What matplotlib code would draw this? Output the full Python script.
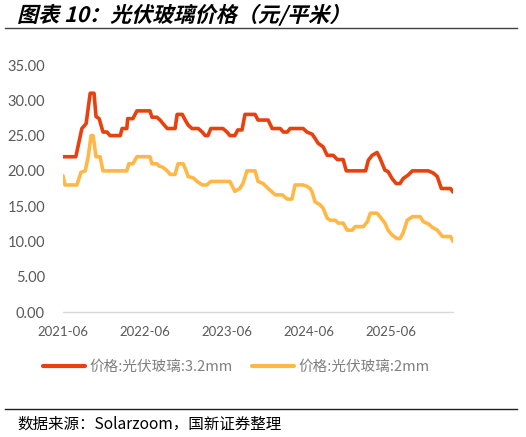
import matplotlib
matplotlib.use("Agg")
import matplotlib.pyplot as plt
import pandas as pd
from matplotlib.lines import Line2D
from matplotlib.textpath import TextPath
from matplotlib.patches import PathPatch
from matplotlib.font_manager import FontProperties
from matplotlib.transforms import Affine2D

plt.rcParams['font.family'] = ['Noto Sans CJK SC', 'DejaVu Sans']

# 价格:光伏玻璃:3.2mm (元/平米)
dates_32 = ['2021-06-01', '2021-07-28', '2021-08-24', '2021-09-12', '2021-09-30',
            '2021-10-17', '2021-10-26', '2021-11-09', '2021-11-26', '2021-12-14',
            '2021-12-27', '2022-02-11', '2022-02-19', '2022-03-12', '2022-03-16',
            '2022-04-08', '2022-04-26', '2022-06-23', '2022-07-02', '2022-07-24',
            '2022-08-07', '2022-08-20', '2022-09-08', '2022-10-13', '2022-10-22',
            '2022-11-14', '2022-11-27', '2022-12-10', '2022-12-27', '2023-01-24',
            '2023-02-11', '2023-02-24', '2023-03-08', '2023-03-21', '2023-05-14',
            '2023-06-01', '2023-06-14', '2023-07-06', '2023-07-19', '2023-08-07',
            '2023-08-20', '2023-10-04', '2023-10-17', '2023-12-01', '2023-12-19',
            '2024-01-24', '2024-02-07', '2024-02-24', '2024-03-08', '2024-05-05',
            '2024-05-22', '2024-06-14', '2024-06-27', '2024-07-11', '2024-08-02',
            '2024-08-20', '2024-09-16', '2024-10-04', '2024-10-30', '2024-11-13',
            '2025-02-07', '2025-02-19', '2025-03-08', '2025-03-30', '2025-04-12',
            '2025-05-04', '2025-05-18', '2025-06-05', '2025-06-23', '2025-07-10',
            '2025-07-24', '2025-08-15', '2025-09-03', '2025-11-13', '2025-12-05',
            '2025-12-23', '2026-01-10', '2026-02-20', '2026-03-03']
price_32 = [22.0, 22.0, 26.0, 26.7, 31.0,
            31.0, 27.7, 27.4, 25.5, 25.5,
            25.0, 25.0, 26.0, 26.0, 27.4,
            27.4, 28.5, 28.5, 27.6, 27.6,
            27.2, 26.7, 26.0, 26.0, 28.0,
            28.0, 27.2, 26.5, 26.0, 26.0,
            25.5, 25.0, 25.0, 26.0, 26.0,
            25.5, 25.0, 25.0, 25.8, 25.8,
            28.0, 28.0, 27.2, 27.2, 26.0,
            26.0, 25.5, 25.5, 26.0, 26.0,
            25.5, 25.2, 24.6, 23.9, 23.4,
            22.2, 22.2, 21.6, 21.6, 20.0,
            20.0, 21.5, 22.2, 22.6, 21.8,
            20.1, 19.9, 18.9, 18.2, 18.2,
            18.9, 19.4, 20.0, 20.0, 19.7,
            19.2, 17.5, 17.5, 17.0]

# 价格:光伏玻璃:2mm (元/平米)
dates_2 = ['2021-06-01', '2021-06-10', '2021-08-02', '2021-08-20', '2021-09-08',
           '2021-09-21', '2021-10-04', '2021-10-13', '2021-10-26', '2021-11-13',
           '2021-11-26', '2022-03-12', '2022-03-21', '2022-04-08', '2022-04-26',
           '2022-06-23', '2022-07-02', '2022-07-24', '2022-08-02', '2022-08-20',
           '2022-09-08', '2022-09-21', '2022-10-13', '2022-10-26', '2022-11-18',
           '2022-12-01', '2022-12-10', '2023-01-02', '2023-01-19', '2023-02-11',
           '2023-03-03', '2023-03-21', '2023-06-14', '2023-07-06', '2023-07-28',
           '2023-08-11', '2023-08-29', '2023-10-04', '2023-10-17', '2023-11-09',
           '2023-12-01', '2024-01-02', '2024-02-02', '2024-02-24', '2024-03-16',
           '2024-03-30', '2024-05-05', '2024-05-22', '2024-06-05', '2024-06-14',
           '2024-06-27', '2024-07-19', '2024-08-02', '2024-08-20', '2024-09-02',
           '2024-09-25', '2024-10-08', '2024-10-30', '2024-11-17', '2024-12-09',
           '2024-12-23', '2025-01-28', '2025-02-15', '2025-02-28', '2025-03-30',
           '2025-04-12', '2025-05-04', '2025-05-18', '2025-06-05', '2025-06-27',
           '2025-07-10', '2025-07-24', '2025-08-11', '2025-09-03', '2025-10-08',
           '2025-10-22', '2025-11-13', '2025-12-01', '2025-12-23', '2026-01-15',
           '2026-02-20', '2026-03-03']
price_2 = [19.3, 18.0, 18.0, 19.8, 20.0,
           22.0, 25.0, 25.0, 22.0, 22.0,
           20.0, 20.0, 21.0, 21.0, 22.0,
           22.0, 21.0, 21.0, 20.7, 20.5,
           20.0, 19.5, 19.5, 21.0, 21.0,
           20.0, 19.2, 19.0, 18.5, 18.0,
           18.0, 18.5, 18.5, 17.1, 17.5,
           18.2, 20.0, 20.0, 18.5, 18.2,
           17.5, 16.6, 16.6, 16.0, 16.0,
           18.0, 18.0, 17.8, 17.5, 17.0,
           15.6, 15.2, 14.7, 13.3, 13.0,
           13.0, 12.6, 12.6, 11.6, 11.6,
           12.1, 12.1, 12.8, 14.0, 14.0,
           13.5, 12.6, 11.6, 10.9, 10.4,
           10.4, 11.2, 13.0, 13.5, 13.5,
           12.8, 12.5, 12.0, 11.6, 10.7,
           10.7, 10.0]

tick_dates = ['2021-06-01', '2022-06-01', '2023-06-01', '2024-06-01', '2025-06-01']
y_ticks = [0, 5, 10, 15, 20, 25, 30, 35]

label_32 = '价格:光伏玻璃:3.2mm'
label_2 = '价格:光伏玻璃:2mm'
color_32 = '#E8410E'
color_2 = '#FFB845'

W, H = 526, 437
fig = plt.figure(figsize=(W / 100, H / 100), dpi=100)
ax = fig.add_axes([63 / W, 1 - 312 / H, 390 / W, 247 / H])

ax.plot(pd.to_datetime(dates_32), price_32, color=color_32, lw=2.6, solid_capstyle='round')
ax.plot(pd.to_datetime(dates_2), price_2, color=color_2, lw=2.6, solid_capstyle='round')

ax.set_xlim(pd.Timestamp('2021-06-01'), pd.Timestamp('2026-03-03'))
ax.set_ylim(0, 35)
ax.set_yticks(y_ticks)
ax.set_yticklabels(['%.2f' % v for v in y_ticks], family='Lato', fontsize=10.5, color='#595959')
ax.set_xticks(pd.to_datetime(tick_dates))
ax.set_xticklabels([d[:7] for d in tick_dates], family='Lato', fontsize=9.5, color='#595959')
ax.tick_params(axis='both', length=0)
ax.tick_params(axis='y', pad=13)
ax.tick_params(axis='x', pad=10)
for s in ['top', 'right', 'left']:
    ax.spines[s].set_visible(False)
ax.spines['bottom'].set_color('#d9d9d9')
ax.spines['bottom'].set_linewidth(1)

# legend
handles = [Line2D([], [], color=color_32, lw=3, solid_capstyle='round'),
           Line2D([], [], color=color_2, lw=3, solid_capstyle='round')]
fig.legend(handles, [label_32, label_2], loc='center', bbox_to_anchor=(236 / W, 1 - 367 / H),
           ncol=2, frameon=False, fontsize=10.5, handlelength=2.9, handletextpad=0.3,
           columnspacing=1.3, labelcolor='#7f7f7f')

# title, drawn as a slanted path to look italic
title = '图表 10：光伏玻璃价格（元/平米）'
tp = TextPath((0, 0), title, size=15.2,
              prop=FontProperties(family=['Noto Sans CJK SC', 'DejaVu Sans'], weight='bold'))
tr = Affine2D().skew_deg(14, 0).scale(1 / 72).translate(17 / 100, (H - 22) / 100) + fig.dpi_scale_trans
fig.add_artist(PathPatch(tp, transform=tr, facecolor='black', edgecolor='none'))

fig.add_artist(Line2D([5 / W, 517 / W], [1 - 28 / H, 1 - 28 / H], color='#404040', lw=1))
fig.add_artist(Line2D([5 / W, 517 / W], [1 - 409 / H, 1 - 409 / H], color='#202020', lw=1))
fig.text(17 / W, 1 - 424 / H, '数据来源：Solarzoom，国新证券整理', fontsize=11.2,
         va='center', ha='left', color='black')

fig.savefig('out.png', dpi=100)
